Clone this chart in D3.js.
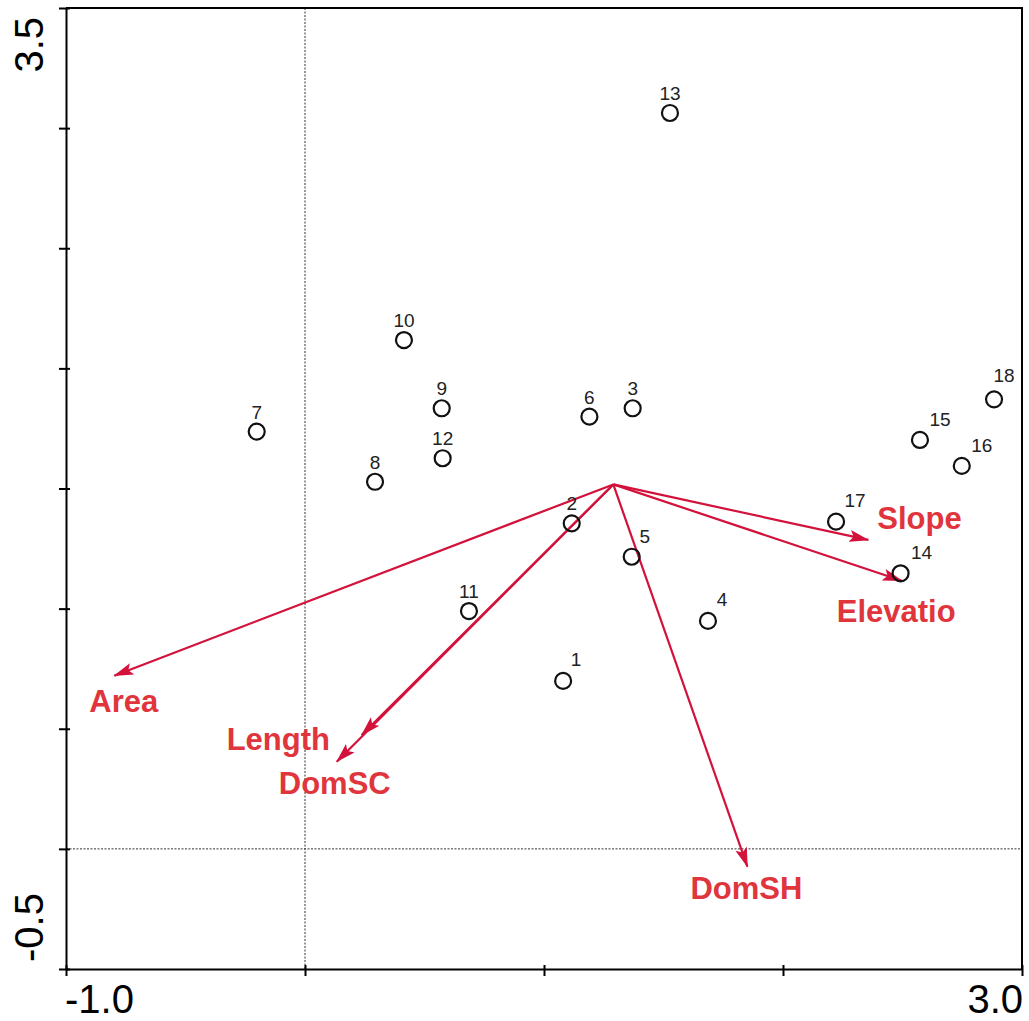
<!DOCTYPE html>
<html>
<head>
<meta charset="utf-8">
<script src="https://cdn.jsdelivr.net/npm/d3@7"></script>
<style>
  html, body { margin: 0; padding: 0; background: #fff; }
  svg { display: block; }
</style>
</head>
<body>
<div id="chart"></div>
<script>
// ---- data ----
const siteIds = ["1","2","3","4","5","6","7","8","9","10","11","12","13","14","15","16","17","18"];
const siteX = [1.080, 1.116, 1.371, 1.686, 1.367, 1.190, -0.202, 0.293, 0.572, 0.414, 0.686, 0.576, 1.527, 2.492, 2.573, 2.748, 2.222, 2.883];
const siteY = [0.699, 1.355, 1.834, 0.949, 1.216, 1.799, 1.737, 1.528, 1.834, 2.118, 0.990, 1.626, 3.063, 1.147, 1.702, 1.594, 1.362, 1.871];

const envNames = ["Area", "Length", "DomSC", "DomSH", "Slope", "Elevatio"];
const envX = [-0.798, 0.237, 0.133, 1.851, 2.357, 2.497];
const envY = [0.721, 0.474, 0.363, -0.074, 1.286, 1.116];
const envOrigin = [1.290, 1.517];

const xDomain = [-1.0, 3.0];
const yDomain = [-0.5, 3.5];
const xTicks = [-1, 0, 1, 2, 3];
const yTicks = [-0.5, 0, 0.5, 1, 1.5, 2, 2.5, 3, 3.5];
const xTickLabels = ["-1.0", "3.0"];
const yTickLabels = ["-0.5", "3.5"];

// ---- layout (label nudges, in px) ----
const siteLabelNudge = {
  "1": [13, -15], "4": [14, -15], "5": [13, -14],
  "14": [21, -14], "15": [20, -14], "16": [20, -14], "17": [19, -15], "18": [10, -17]
};
const envLabelNudge = [[-25, 36], [-135, 15], [-58, 32], [-57, 32], [9, -11], [-65, 41]];

// ---- drawing ----
(function () {
const W = 1029, H = 1021;
const pL = 66, pR = 1022, pT = 8, pB = 969;
const x = d3.scaleLinear().domain(xDomain).range([pL, pR]);
const y = d3.scaleLinear().domain(yDomain).range([pB, pT]);

const svg = d3.select("#chart").append("svg")
  .attr("width", W).attr("height", H)
  .style("font-family", "'Liberation Sans', Arial, sans-serif");

const lineRed = "#d3123b";
const textRed = "#e0353d";

svg.append("defs").append("marker")
  .attr("id", "head")
  .attr("markerUnits", "userSpaceOnUse")
  .attr("viewBox", "0 0 20 13")
  .attr("refX", 19).attr("refY", 6.5)
  .attr("markerWidth", 20).attr("markerHeight", 13)
  .attr("orient", "auto")
  .append("path").attr("d", "M0,0.5 L20,6.5 L0,12.5 L4,6.5 Z").attr("fill", lineRed);

// zero reference lines
svg.append("line")
  .attr("x1", x(0)).attr("x2", x(0)).attr("y1", pT).attr("y2", pB)
  .attr("stroke", "#333").attr("stroke-width", 1).attr("stroke-dasharray", "2,1.5");
svg.append("line")
  .attr("x1", pL).attr("x2", pR).attr("y1", y(0)).attr("y2", y(0))
  .attr("stroke", "#333").attr("stroke-width", 1).attr("stroke-dasharray", "2,1.5");

// frame
svg.append("path")
  .attr("d", `M${pL},${pT} L${pR},${pT} L${pR},${pB}`)
  .attr("fill", "none").attr("stroke", "#000").attr("stroke-width", 2);

// axes
const yAxis = svg.append("g").attr("transform", `translate(${pL},0)`)
  .call(d3.axisLeft(y).tickValues(yTicks).tickSize(7).tickSizeOuter(0).tickFormat(""));
const xAxis = svg.append("g").attr("transform", `translate(0,${pB})`)
  .call(d3.axisBottom(x).tickValues(xTicks).tickSize(7).tickSizeOuter(0).tickFormat(""));
[yAxis, xAxis].forEach(g => {
  g.select(".domain").attr("stroke", "#000").attr("stroke-width", 2);
  g.selectAll(".tick line").attr("stroke", "#000").attr("stroke-width", 2);
});
yAxis.selectAll(".tick line").attr("x1", 4);
xAxis.selectAll(".tick line").attr("y1", -4);

// end tick labels
svg.append("text").text(xTickLabels[0])
  .attr("x", x(xDomain[0]) - 1).attr("y", 1013)
  .attr("font-size", 40).attr("text-anchor", "start").attr("fill", "#000");
svg.append("text").text(xTickLabels[1])
  .attr("x", x(xDomain[1]) + 1).attr("y", 1013)
  .attr("font-size", 40).attr("text-anchor", "end").attr("fill", "#000");
svg.append("text").text(yTickLabels[0])
  .attr("transform", `translate(43,${y(yDomain[0]) - 7}) rotate(-90)`)
  .attr("font-size", 40).attr("text-anchor", "start").attr("fill", "#000");
svg.append("text").text(yTickLabels[1])
  .attr("transform", `translate(43,${y(yDomain[1]) + 9}) rotate(-90)`)
  .attr("font-size", 40).attr("text-anchor", "end").attr("fill", "#000");

// environmental arrows
const env = envNames.map((n, i) => ({ name: n, x: envX[i], y: envY[i], nudge: envLabelNudge[i] }));
svg.append("g").selectAll("line").data(env).join("line")
  .attr("x1", x(envOrigin[0])).attr("y1", y(envOrigin[1]))
  .attr("x2", d => x(d.x)).attr("y2", d => y(d.y))
  .attr("stroke", lineRed).attr("stroke-width", 2.2)
  .attr("marker-end", "url(#head)");

// sites
const sites = siteIds.map((id, i) => ({ id, x: siteX[i], y: siteY[i] }));
svg.append("g").selectAll("circle").data(sites).join("circle")
  .attr("cx", d => x(d.x)).attr("cy", d => y(d.y)).attr("r", 8)
  .attr("fill", "none").attr("stroke", "#111").attr("stroke-width", 2.2);
svg.append("g").selectAll("text").data(sites).join("text")
  .attr("x", d => x(d.x) + (siteLabelNudge[d.id] ? siteLabelNudge[d.id][0] : 0))
  .attr("y", d => y(d.y) + (siteLabelNudge[d.id] ? siteLabelNudge[d.id][1] : -13))
  .attr("text-anchor", "middle").attr("font-size", 19).attr("fill", "#222")
  .text(d => d.id);

// arrow labels
svg.append("g").selectAll("text").data(env).join("text")
  .attr("x", d => x(d.x) + d.nudge[0]).attr("y", d => y(d.y) + d.nudge[1])
  .attr("font-size", 31).attr("font-weight", "bold").attr("fill", textRed)
  .text(d => d.name);
})();
</script>
</body>
</html>
